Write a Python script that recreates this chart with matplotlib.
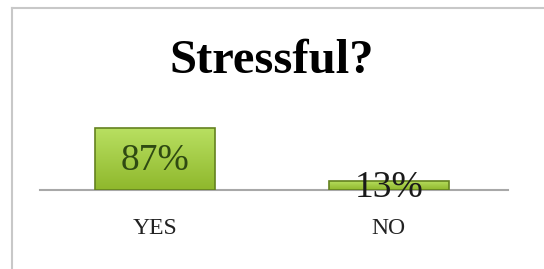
import numpy as np
import matplotlib.pyplot as plt
from matplotlib.lines import Line2D
from matplotlib.colors import LinearSegmentedColormap

# Data
categories = ["YES", "NO"]
values = [87, 13]
labels = ["87%", "13%"]
label_colors = ["#2f4a12", "#1a1a1a"]

plt.rcParams['font.family'] = ['Liberation Serif', 'DejaVu Serif']

fig = plt.figure(figsize=(5.44, 2.69), dpi=100)
fig.patch.set_facecolor("white")

# outer chart border (only top and left visible in the crop)
fig.add_artist(Line2D([12 / 544, 12 / 544], [0, 1 - 8 / 269], color="#c8c8c8", lw=1.5))
fig.add_artist(Line2D([12 / 544, 1], [1 - 8 / 269, 1 - 8 / 269], color="#c8c8c8", lw=1.5))

ax = fig.add_axes([40 / 544, (269 - 190) / 269, 468 / 544, 71.3 / 269])
x = np.arange(len(categories))
bars = ax.bar(x, values, width=0.51, color="#9cc93c", edgecolor="#64821f", linewidth=1.2, zorder=2)

# vertical gradient fill inside each bar
cmap = LinearSegmentedColormap.from_list("grn", ["#8fb82c", "#b9e062"])
grad = np.linspace(0, 1, 100).reshape(-1, 1)
for b in bars:
    x0, w, h = b.get_x(), b.get_width(), b.get_height()
    im = ax.imshow(grad, extent=[x0, x0 + w, 0, h], origin="lower", cmap=cmap,
                   aspect="auto", zorder=2.5)
    im.set_clip_path(b)
    b.set_facecolor("none")
    b.set_zorder(3)

for i, (v, lab) in enumerate(zip(values, labels)):
    ax.text(x[i], v / 2 - 3, lab, ha="center", va="center", fontsize=27,
            color=label_colors[i], zorder=4)

ax.set_xlim(-0.491, 1.509)
ax.set_ylim(0, 100)
ax.axhline(0, color="#a8a8a8", lw=1.5, zorder=1, clip_on=False)
for s in ax.spines.values():
    s.set_visible(False)
ax.set_yticks([])
ax.set_xticks(x)
ax.set_xticklabels(categories, fontsize=17, color="#222222")
ax.tick_params(axis="x", length=0, pad=20)
ax.patch.set_alpha(0)

fig.text(272 / 544, 1 - 61 / 269, "Stressful?", ha="center", va="center",
         fontsize=35, fontweight="bold")

fig.savefig("out.png", dpi=100)
